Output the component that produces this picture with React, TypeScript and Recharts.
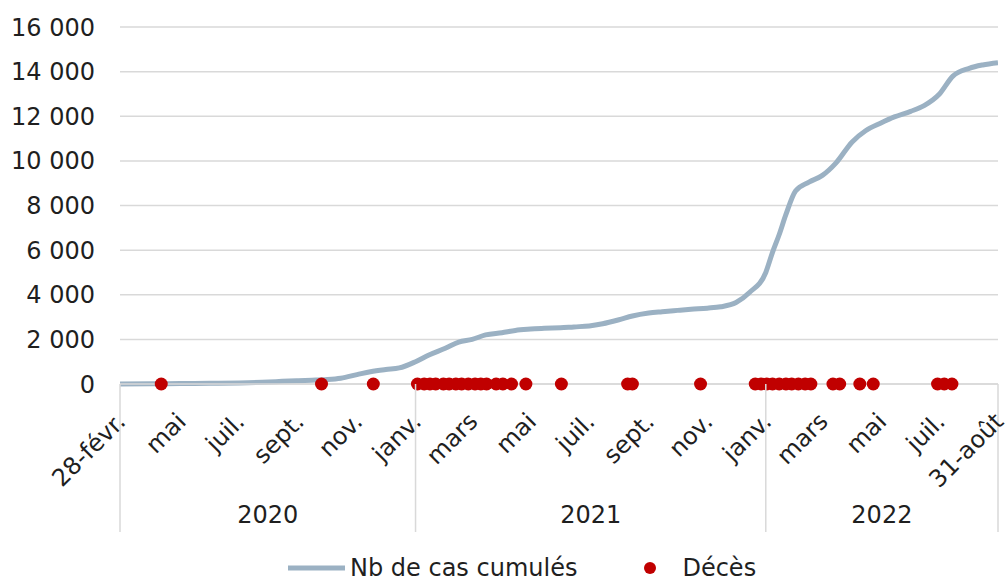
import React from "react";
import { ComposedChart, Line, Scatter, XAxis, YAxis, CartesianGrid, Legend } from "recharts";

const FONT = "'DejaVu Sans', sans-serif";
const FS = 24;
const LINE = "#9bb1c3";
const RED = "#c00000";
const GRID = "#d9d9d9";
const TXT = "#1f1f1f";

// jours depuis le 28 février 2020
const START = Date.UTC(2020, 1, 28);
const toDay = (d: string) => Math.round((Date.parse(d + "T00:00:00Z") - START) / 86400000);

const caseDates = [
  "2020-02-28", "2020-04-01", "2020-05-01", "2020-06-01", "2020-07-01", "2020-08-01", "2020-08-15",
  "2020-09-01", "2020-09-15", "2020-10-01", "2020-10-15", "2020-11-01", "2020-11-15", "2020-12-01",
  "2020-12-15", "2021-01-01", "2021-01-15", "2021-02-01", "2021-02-15", "2021-03-01", "2021-03-15",
  "2021-04-01", "2021-04-15", "2021-05-01", "2021-05-15", "2021-06-01", "2021-06-15", "2021-07-01",
  "2021-07-15", "2021-08-01", "2021-08-15", "2021-09-01", "2021-09-15", "2021-10-01", "2021-10-15",
  "2021-11-01", "2021-11-15", "2021-12-01", "2021-12-15", "2022-01-01", "2022-01-08", "2022-01-15",
  "2022-01-22", "2022-02-01", "2022-02-15", "2022-03-01", "2022-03-15", "2022-04-01", "2022-04-15",
  "2022-05-01", "2022-05-15", "2022-06-01", "2022-06-15", "2022-07-01", "2022-07-15", "2022-08-01",
  "2022-08-15", "2022-08-31",
];
const caseValues = [
  0, 10, 20, 30, 50, 90, 120,
  150, 170, 200, 260, 420, 550, 650,
  720, 1000, 1300, 1600, 1880, 2000, 2200,
  2300, 2400, 2460, 2500, 2520, 2560, 2600,
  2700, 2880, 3050, 3180, 3240, 3300, 3350,
  3400, 3460, 3650, 4100, 5000, 5900, 6700,
  7600, 8650, 9050, 9350, 9900, 10850, 11350,
  11700, 11970, 12220, 12480, 13000, 13800, 14150,
  14300, 14400,
];

const deathDates = [
  "2020-04-11", "2020-09-25", "2020-11-18",
  "2021-01-03", "2021-01-10", "2021-01-16", "2021-01-22", "2021-01-30", "2021-02-05", "2021-02-12",
  "2021-02-18", "2021-02-25", "2021-03-04", "2021-03-10", "2021-03-16", "2021-03-26", "2021-04-02",
  "2021-04-11", "2021-04-26", "2021-06-02", "2021-08-10", "2021-08-15", "2021-10-25",
  "2021-12-21", "2021-12-27", "2022-01-02", "2022-01-08", "2022-01-15", "2022-01-22", "2022-01-28",
  "2022-02-04", "2022-02-11", "2022-02-17", "2022-03-12", "2022-03-19", "2022-04-09", "2022-04-23",
  "2022-06-29", "2022-07-06", "2022-07-14",
];

const tickDates = [
  "2020-02-28", "2020-05-01", "2020-07-01", "2020-09-01", "2020-11-01",
  "2021-01-01", "2021-03-01", "2021-05-01", "2021-07-01", "2021-09-01", "2021-11-01",
  "2022-01-01", "2022-03-01", "2022-05-01", "2022-07-01", "2022-08-31",
];
const tickLabels = [
  "28-févr.", "mai", "juil.", "sept.", "nov.",
  "janv.", "mars", "mai", "juil.", "sept.", "nov.",
  "janv.", "mars", "mai", "juil.", "31-août",
];
const years = ["2020", "2021", "2022"];
const yearBounds = ["2020-02-28", "2021-01-01", "2022-01-01", "2022-08-31"];
const yTicks = [0, 2000, 4000, 6000, 8000, 10000, 12000, 14000, 16000];

const caseData = caseDates.map((d, i) => ({ day: toDay(d), cases: caseValues[i] }));
const deathData = deathDates.map((d) => ({ day: toDay(d), deces: 0 }));
const tickDays = tickDates.map(toDay);
const boundDays = yearBounds.map(toDay);
const yearMids = years.map((_, i) => (boundDays[i] + boundDays[i + 1]) / 2);
const END = boundDays[boundDays.length - 1];

const fmt = (v: number) => String(v).replace(/\B(?=(\d{3})+(?!\d))/g, " ");

const MonthTick = (props: any) => {
  const { x, y, payload } = props;
  const i = tickDays.indexOf(payload.value);
  const ax = x + 7;
  const ay = y + 39;
  return (
    <g>
      {boundDays.includes(payload.value) && (
        <line x1={x} y1={y} x2={x} y2={y + 148} stroke={GRID} strokeWidth={1.5} />
      )}
      <text x={ax} y={ay} transform={`rotate(-45 ${ax} ${ay})`} textAnchor="end"
        fontSize={FS} fontFamily={FONT} fill={TXT}>
        {tickLabels[i]}
      </text>
    </g>
  );
};

const YearTick = (props: any) => {
  const { x, y, payload } = props;
  const i = yearMids.indexOf(payload.value);
  return (
    <text x={x} y={y + 19} dy="0.35em" textAnchor="middle" fontSize={FS} fontFamily={FONT} fill={TXT}>
      {years[i]}
    </text>
  );
};

const LegendContent = () => (
  <div style={{ display: "flex", alignItems: "center", paddingTop: 22, paddingLeft: 288, fontSize: FS, fontFamily: FONT, color: TXT }}>
    <svg width={57} height={10}><line x1={0} y1={5} x2={57} y2={5} stroke={LINE} strokeWidth={5} /></svg>
    <span style={{ marginLeft: 5 }}>Nb de cas cumulés</span>
    <svg width={14} height={14} style={{ marginLeft: 66 }}><circle cx={7} cy={7} r={6} fill={RED} /></svg>
    <span style={{ marginLeft: 25 }}>Décès</span>
  </div>
);

export default function App() {
  return (
    <div style={{ position: "absolute", left: 0, top: 0 }}>
      <ComposedChart width={1008} height={580} data={caseData}
        margin={{ top: 27, right: 10, left: 0, bottom: 0 }}>
        <CartesianGrid vertical={false} stroke={GRID} strokeWidth={1.5} />
        <XAxis dataKey="day" type="number" domain={[0, END]} ticks={tickDays} interval={0}
          tick={<MonthTick />} tickLine={false} tickSize={0} tickMargin={0} height={112}
          axisLine={{ stroke: GRID, strokeWidth: 1.5 }} allowDataOverflow />
        <XAxis xAxisId="year" dataKey="day" type="number" domain={[0, END]} ticks={yearMids} interval={0}
          tick={<YearTick />} tickLine={false} axisLine={false} tickSize={0} tickMargin={0} height={36} />
        <YAxis type="number" domain={[0, 16000]} ticks={yTicks} interval={0} width={120}
          tickFormatter={fmt} axisLine={false} tickLine={false} tickSize={0} tickMargin={25}
          tick={{ fontSize: FS, fontFamily: FONT, fill: TXT }} />
        <Legend verticalAlign="bottom" height={48} content={<LegendContent />}
          wrapperStyle={{ left: 0, width: 1008 }} />
        <Line dataKey="cases" type="monotone" stroke={LINE} strokeWidth={5} dot={false}
          isAnimationActive={false} name="Nb de cas cumulés" />
        <Scatter data={deathData} dataKey="deces" fill={RED} name="Décès" isAnimationActive={false}
          shape={(p: any) => <circle cx={p.cx} cy={p.cy} r={6.5} fill={RED} />} />
      </ComposedChart>
    </div>
  );
}
